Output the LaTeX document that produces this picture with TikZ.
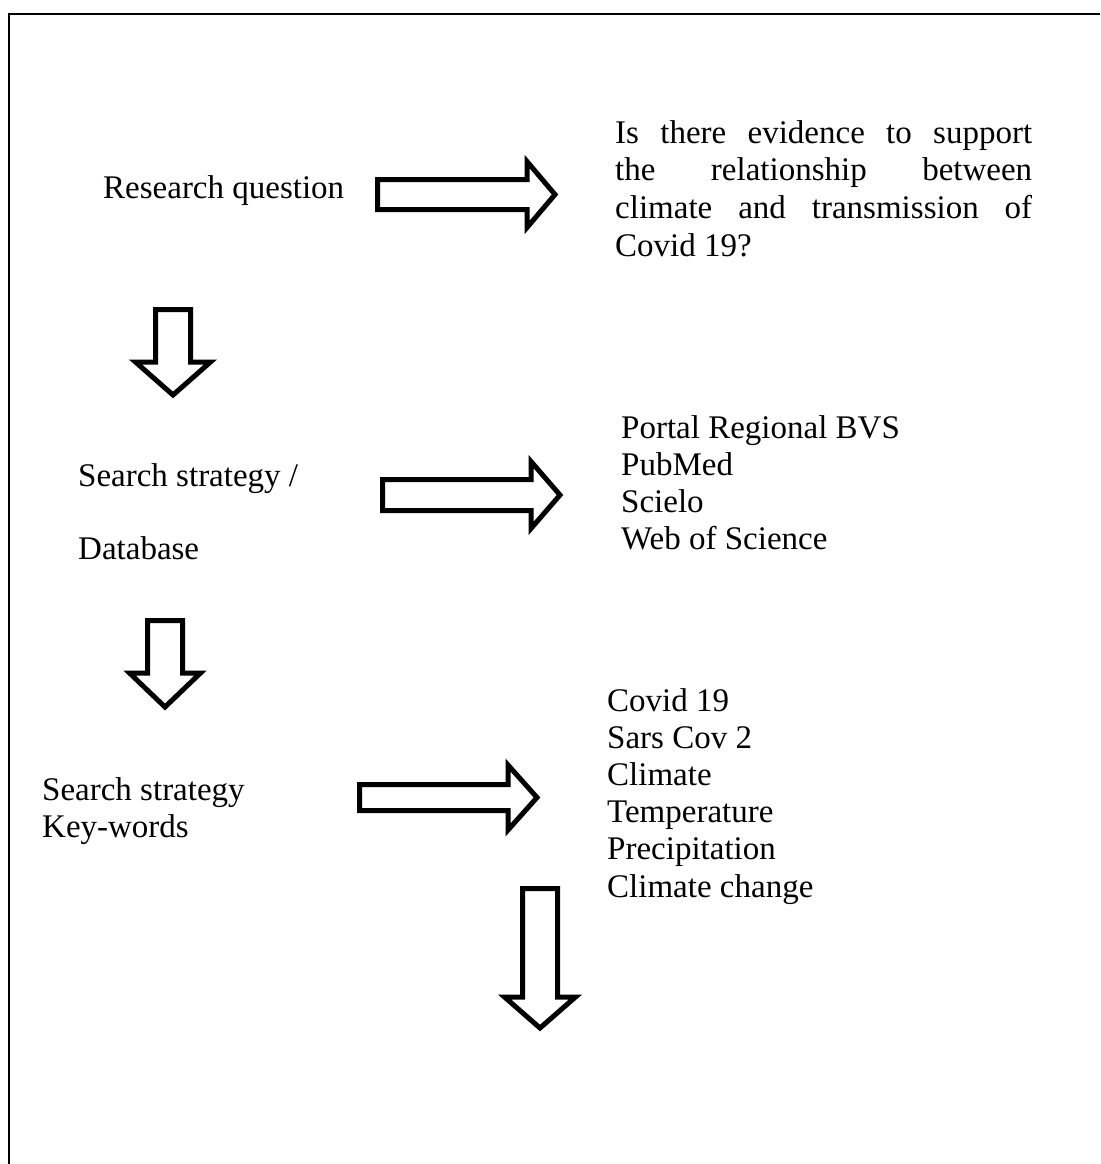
\documentclass[tikz,border=0pt]{standalone}
\usepackage{fontspec}
\setmainfont{Liberation Serif}
\begin{document}
\begin{tikzpicture}[x=1pt,y=-1pt,
  txt/.style={anchor=base west,inner sep=0pt,font=\fontsize{33}{37.7}\selectfont},
  blockarrow/.style={draw=black,line width=5pt,fill=white,line join=miter},
  frameline/.style={draw=black,line width=2pt}]
\useasboundingbox (0,0) rectangle (1100,1164);
% frame: top and left edges
\draw[frameline] (9,1164) -- (9,14) -- (1100,14);

% horizontal block arrow: #1 tail x, #2 head base x, #3 tip x, #4 centre y, #5 half body, #6 half head
\newcommand\rightblock[6]{%
  \draw[blockarrow] (#1,#4-#5) -- (#2,#4-#5) -- (#2,#4-#6) -- (#3,#4)
    -- (#2,#4+#6) -- (#2,#4+#5) -- (#1,#4+#5) -- cycle;}
% vertical block arrow: #1 centre x, #2 tail y, #3 head base y, #4 tip y, #5 half body, #6 half head
\newcommand\downblock[6]{%
  \draw[blockarrow] (#1-#5,#2) -- (#1-#5,#3) -- (#1-#6,#3) -- (#1,#4)
    -- (#1+#6,#3) -- (#1+#5,#3) -- (#1+#5,#2) -- cycle;}

% texts
\node[txt] (rq) at (103,198) {Research question};
\node[txt] (q) at (615,143) {\vtop{\baselineskip=37.7pt
  \hbox to 417pt{Is there evidence to support}
  \hbox to 417pt{the\hfill relationship\hfill between}
  \hbox to 417pt{climate\hfill and\hfill transmission\hfill of}
  \hbox{Covid 19?}}};
\node[txt] (db) at (78,486) {\vtop{\baselineskip=73pt
  \hbox{Search strategy /}\hbox{Database}}};
\node[txt] (dbl) at (621,438) {\vtop{\baselineskip=37pt
  \hbox{Portal Regional BVS}\hbox{PubMed}\hbox{Scielo}\hbox{Web of Science}}};
\node[txt] (kw) at (42,800) {\vtop{\baselineskip=37pt
  \hbox{Search strategy}\hbox{Key-words}}};
\node[txt] (kwl) at (607,711) {\vtop{\baselineskip=37.2pt
  \hbox{Covid 19}\hbox{Sars Cov 2}\hbox{Climate}\hbox{Temperature}
  \hbox{Precipitation}\hbox{Climate change}}};

% arrows
\rightblock{377.5}{527}{555}{194.5}{15}{33}
\downblock{173}{309.5}{362}{395}{17.5}{37.5}
\rightblock{382.5}{531}{560}{495}{15.5}{33.5}
\downblock{165}{620.5}{673}{707}{17.5}{35.5}
\rightblock{359.5}{508}{537}{797.5}{13}{32.5}
\downblock{540}{888.5}{997}{1028}{17.5}{35.5}
\end{tikzpicture}
\end{document}
